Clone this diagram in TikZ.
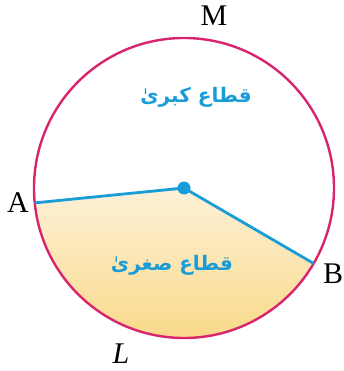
\documentclass[tikz,border=0pt]{standalone}
\usepackage{fontspec}
\setmainfont{Liberation Serif}
\newfontfamily\arabicfont[Script=Arabic]{DejaVu Sans}
\TeXXeTstate=1
\definecolor{rimpink}{HTML}{D8246E}
\definecolor{radblue}{HTML}{1A9CD8}
\definecolor{fillhi}{HTML}{FDF1D8}
\definecolor{filllo}{HTML}{F9D886}
\begin{document}
\begin{tikzpicture}[x=1pt,y=-1pt,
  ptlabel/.style={font=\fontsize{30}{30}\selectfont, inner sep=0pt},
  urdu/.style={font=\arabicfont\bfseries\fontsize{20}{26}\selectfont, text=radblue, inner sep=0pt},
  radiusline/.style={draw=radblue, line width=2.8pt},
  rim/.style={draw=rimpink, line width=2.4pt}]
\useasboundingbox (0,0) rectangle (344,371);
\coordinate (O) at (184,188);
\coordinate (A) at (34.7,202.9);
\coordinate (B) at (313.6,263.4);
% minor sector fill
\shade[top color=fillhi, bottom color=filllo]
  (O) -- (A) arc[start angle=174.3, end angle=30.2, radius=150] -- cycle;
% circle
\node[rim, circle, minimum size=300pt, inner sep=0pt] (C) at (O) {};
% radii
\draw[radiusline] (A) -- (O) -- (B);
\node[circle, fill=radblue, minimum size=13pt, inner sep=0pt] (dot) at (O) {};
% labels
\node[ptlabel] (lM) at (214,16) {M};
\node[ptlabel] (lA) at (18,203) {A};
\node[ptlabel] (lB) at (333,274) {B};
\node[ptlabel, font=\fontsize{30}{30}\selectfont\itshape] (lL) at (121,354) {L};
\node[urdu] (major) at (196,97) {\mbox{\beginR قطاع کبریٰ\endR}};
\node[urdu] (minor) at (172,265) {\mbox{\beginR قطاع صغریٰ\endR}};
\end{tikzpicture}
\end{document}
